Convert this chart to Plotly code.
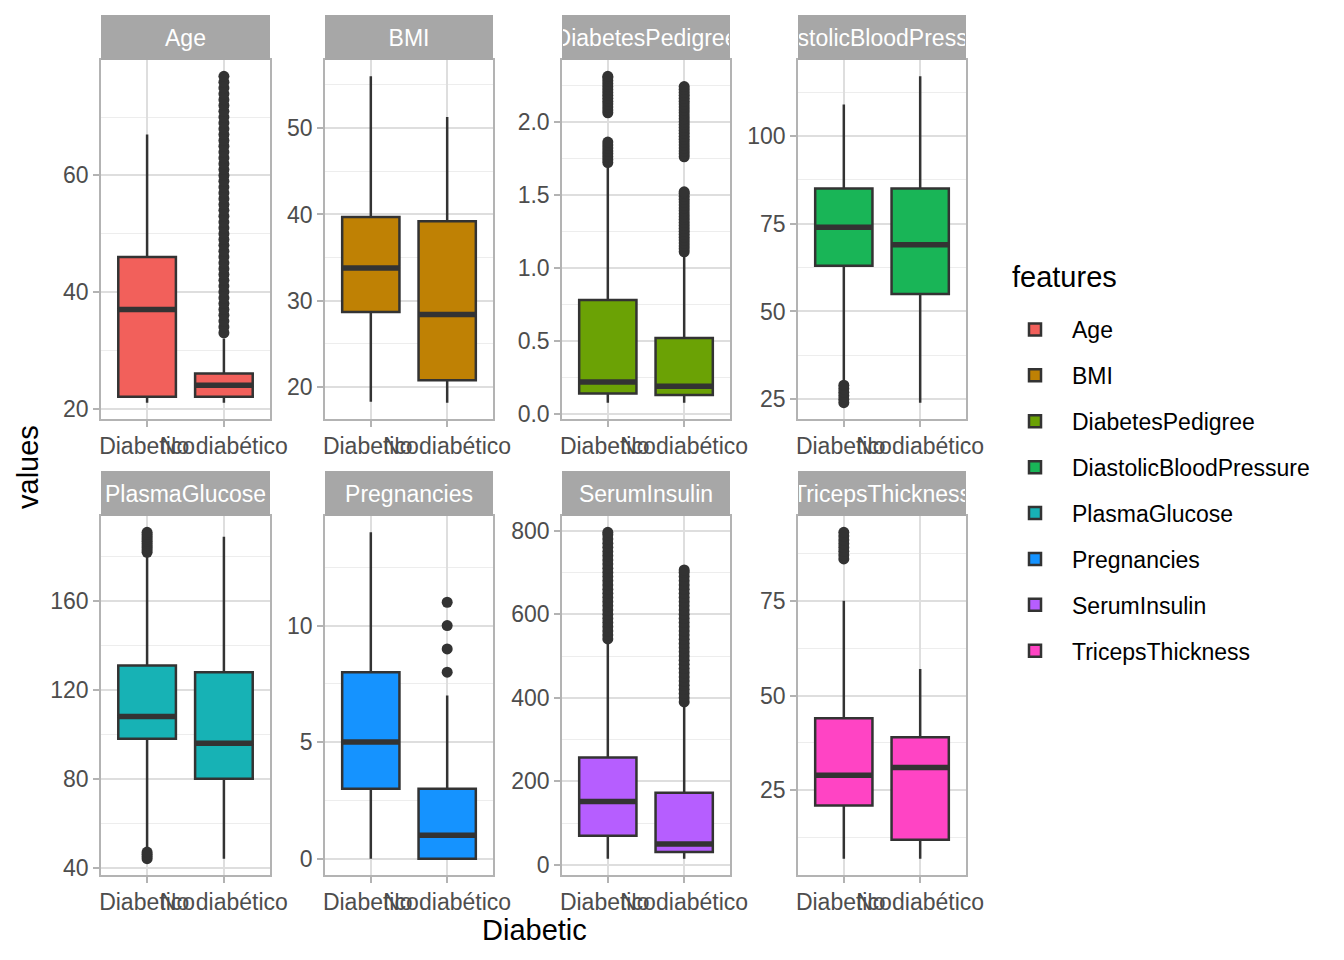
import plotly.graph_objects as go

features = ["Age", "BMI", "DiabetesPedigree", "DiastolicBloodPressure",
            "PlasmaGlucose", "Pregnancies", "SerumInsulin", "TricepsThickness"]
groups = ["Diabetico", "No diabético"]

# Box statistics, group "Diabetico"
diab_low = [21, 18.3, 0.078, 30, 48, 0, 15, 7]
diab_q1 = [22, 28.7, 0.14, 63, 98, 3, 70, 21]
diab_med = [37, 33.8, 0.22, 74, 108, 5, 152, 29]
diab_q3 = [46, 39.7, 0.78, 85, 131, 8, 257, 44]
diab_high = [67, 56.0, 1.70, 109, 181, 14, 538, 75]

# Box statistics, group "No diabético"
non_low = [21, 18.2, 0.078, 24, 44, 0, 15, 7]
non_q1 = [22, 20.8, 0.13, 55, 80, 0, 31, 12]
non_med = [24, 28.4, 0.19, 69, 96, 1, 50, 31]
non_q3 = [26, 39.2, 0.52, 85, 128, 3, 173, 39]
non_high = [32, 51.3, 1.08, 117, 189, 7, 387, 57]

# Outliers
age_out_diab = []
age_out_non = [33, 34, 35, 36, 37, 38, 39, 40, 41, 42, 43, 44, 45, 46, 47, 48, 49, 50,
               51, 52, 53, 54, 55, 56, 57, 58, 59, 60, 61, 62, 63, 64, 65, 66, 67, 68,
               69, 70, 71, 72, 73, 74, 75, 76, 77]
bmi_out_diab = []
bmi_out_non = []
dped_out_diab = [1.72, 1.74, 1.76, 1.78, 1.80, 1.82, 1.84, 1.86,
                 2.06, 2.08, 2.10, 2.12, 2.14, 2.16, 2.18, 2.20, 2.22, 2.24, 2.26, 2.28, 2.30, 2.31]
dped_out_non = [1.11, 1.13, 1.15, 1.17, 1.19, 1.21, 1.23, 1.25, 1.27, 1.29, 1.31, 1.33,
                1.35, 1.37, 1.39, 1.41, 1.43, 1.45, 1.47, 1.49, 1.51, 1.52,
                1.76, 1.78, 1.80, 1.82, 1.84, 1.86, 1.88, 1.90, 1.92, 1.94, 1.96, 1.98,
                2.00, 2.02, 2.04, 2.06, 2.08, 2.10, 2.12, 2.14, 2.16, 2.18, 2.20, 2.22, 2.24]
dbp_out_diab = [24, 25, 26, 27, 28, 29]
dbp_out_non = []
pg_out_diab = [44, 45, 46, 47, 182, 183, 184, 185, 186, 187, 188, 189, 190, 191]
pg_out_non = []
preg_out_diab = []
preg_out_non = [8, 9, 10, 11]
si_out_diab = [541, 550, 560, 570, 580, 590, 600, 610, 620, 630, 640, 650, 660, 670,
               680, 690, 700, 710, 720, 730, 740, 750, 760, 770, 780, 790, 796]
si_out_non = [390, 400, 410, 420, 430, 440, 450, 460, 470, 480, 490, 500, 510, 520, 530,
              540, 550, 560, 570, 580, 590, 600, 610, 620, 630, 640, 650, 660, 670, 680,
              690, 700, 706]
tri_out_diab = [86, 87, 88, 89, 90, 91, 92, 93]
tri_out_non = []

outliers_diab = [age_out_diab, bmi_out_diab, dped_out_diab, dbp_out_diab,
                 pg_out_diab, preg_out_diab, si_out_diab, tri_out_diab]
outliers_non = [age_out_non, bmi_out_non, dped_out_non, dbp_out_non,
                pg_out_non, preg_out_non, si_out_non, tri_out_non]

# styling
colors = ["#F2605B", "#BF8104", "#6BA205", "#19B557",
          "#17B2B5", "#1593FF", "#B65EFF", "#FF44C4"]
major_step = [20, 10, 0.5, 25, 40, 5, 200, 25]
tick_fmt = ["", "", ".1f", "", "", "", "", ""]

W, H = 1344, 960
OFF = 8  # page offset of the plot div in the browser


def xp(px):
    return (px - OFF) / W


def yp(py):
    return 1 - (py - OFF) / H


col_px = [(101, 270), (325, 493), (562, 730), (798, 966)]
row_px = [(60, 419), (516, 875)]
strip_h = 45
FONT = "Liberation Sans"
DARK = "#333333"
BORDER = "#B3B3B3"
GRID = "#DEDEDE"
TICKTXT = "#4D4D4D"
BOXW = 0.75

fig = go.Figure()
layout = {}
annotations = []
shapes = []

for i, feat in enumerate(features):
    r, c = divmod(i, 4)
    n = i + 1
    xa = "x" if n == 1 else f"x{n}"
    ya = "y" if n == 1 else f"y{n}"
    stats = [
        (diab_low[i], diab_q1[i], diab_med[i], diab_q3[i], diab_high[i], outliers_diab[i]),
        (non_low[i], non_q1[i], non_med[i], non_q3[i], non_high[i], outliers_non[i]),
    ]
    allv = []
    for g, (lo, q1, med, q3, hi, outs) in enumerate(stats):
        pos = g + 1
        allv += [lo, hi] + list(outs)
        fig.add_trace(go.Box(
            x=[pos], q1=[q1], median=[med], q3=[q3], lowerfence=[lo], upperfence=[hi],
            width=BOXW, whiskerwidth=0, fillcolor=colors[i],
            line=dict(color=DARK, width=2.5), boxpoints=False,
            name=feat, legendgroup=feat, showlegend=(g == 0),
            xaxis=xa, yaxis=ya, hoverinfo="skip"))
        fig.add_trace(go.Scatter(
            x=[pos - BOXW / 2, pos + BOXW / 2], y=[med, med], mode="lines",
            line=dict(color=DARK, width=5.5), showlegend=False, legendgroup=feat,
            xaxis=xa, yaxis=ya, hoverinfo="skip"))
        if outs:
            fig.add_trace(go.Scatter(
                x=[pos] * len(outs), y=outs, mode="markers",
                marker=dict(color=DARK, size=11, line=dict(width=0)),
                showlegend=False, legendgroup=feat, xaxis=xa, yaxis=ya, hoverinfo="skip"))
    vmin, vmax = min(allv), max(allv)
    pad = (vmax - vmin) * 0.05
    x0, x1 = col_px[c]
    y0, y1 = row_px[r]
    layout["xaxis" if n == 1 else f"xaxis{n}"] = dict(
        domain=[xp(x0), xp(x1)], anchor=ya, range=[0.4, 2.6], automargin=False,
        tickvals=[1, 2], ticktext=groups, tickangle=0,
        showgrid=True, gridcolor=GRID, gridwidth=1.5,
        zeroline=False, showline=True, mirror=True, linecolor=BORDER, linewidth=1.5,
        ticks="outside", ticklen=6, tickcolor=BORDER, tickwidth=1.5,
        tickfont=dict(family=FONT, size=23, color=TICKTXT))
    layout["yaxis" if n == 1 else f"yaxis{n}"] = dict(
        domain=[yp(y1), yp(y0)], anchor=xa, range=[vmin - pad, vmax + pad],
        automargin=False, tick0=0, dtick=major_step[i], tickformat=tick_fmt[i],
        showgrid=True, gridcolor=GRID, gridwidth=1.5,
        minor=dict(tick0=0, dtick=major_step[i] / 2, showgrid=True, gridcolor="#EDEDED",
                   gridwidth=0.8, ticks=""),
        zeroline=False, showline=True, mirror=True, linecolor=BORDER, linewidth=1.5,
        ticks="outside", ticklen=6, tickcolor=BORDER, tickwidth=1.5,
        tickfont=dict(family=FONT, size=23, color=TICKTXT))
    # strip
    shapes.append(dict(type="rect", xref="paper", yref="paper",
                       x0=xp(x0), x1=xp(x1), y0=yp(y0), y1=yp(y0 - strip_h),
                       fillcolor="#A7A7A7", line=dict(width=0), layer="above"))
    annotations.append(dict(text=feat, xref="paper", yref="paper",
                            x=xp((x0 + x1) / 2), y=yp(y0 - strip_h / 2),
                            xanchor="center", yanchor="middle", showarrow=False,
                            width=x1 - x0 - 2, align="center", borderpad=0,
                            font=dict(family=FONT, size=23, color="white")))

annotations.append(dict(text="values", xref="paper", yref="paper", x=xp(28), y=yp(467),
                        textangle=-90, showarrow=False, xanchor="center", yanchor="middle",
                        font=dict(family=FONT, size=29, color="black")))
annotations.append(dict(text="Diabetic", xref="paper", yref="paper", x=xp(534), y=yp(930),
                        showarrow=False, xanchor="center", yanchor="middle",
                        font=dict(family=FONT, size=29, color="black")))
annotations.append(dict(text="features", xref="paper", yref="paper", x=xp(1010), y=yp(277),
                        showarrow=False, xanchor="left", yanchor="middle",
                        font=dict(family=FONT, size=29, color="black")))

fig.update_layout(
    width=W, height=H, margin=dict(l=0, r=0, t=0, b=0, autoexpand=False),
    paper_bgcolor="white", plot_bgcolor="white",
    annotations=annotations, shapes=shapes,
    legend=dict(x=xp(998), y=yp(308), xanchor="left", yanchor="top",
                font=dict(family=FONT, size=23, color="black"),
                tracegroupgap=13, itemwidth=64, bgcolor="rgba(0,0,0,0)"),
    **layout)

fig.write_html("out.html")
